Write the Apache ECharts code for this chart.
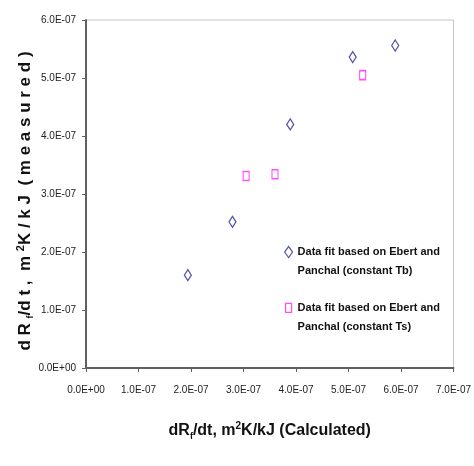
<!DOCTYPE html>
<html><head><meta charset="utf-8">
<script src="https://cdn.jsdelivr.net/npm/echarts@6/dist/echarts.min.js"></script>
<style>html,body{margin:0;padding:0;background:#fff}#c{width:474px;height:466px}</style>
</head><body><div id="c"></div>
<script>
const xTickLabels = ['0.0E+00','1.0E-07','2.0E-07','3.0E-07','4.0E-07','5.0E-07','6.0E-07','7.0E-07'];
const yTickLabels = ['0.0E+00','1.0E-07','2.0E-07','3.0E-07','4.0E-07','5.0E-07','6.0E-07'];
const tbCalculated = [1.94e-7, 2.79e-7, 3.89e-7, 5.08e-7, 5.89e-7];
const tbMeasured   = [1.60e-7, 2.52e-7, 4.20e-7, 5.36e-7, 5.56e-7];
const tsCalculated = [3.05e-7, 3.60e-7, 5.27e-7];
const tsMeasured   = [3.31e-7, 3.34e-7, 5.05e-7];
const seriesNames = ['Data fit based on Ebert and\nPanchal (constant Tb)', 'Data fit based on Ebert and\nPanchal (constant Ts)'];

const FONT = '"Liberation Sans",Arial,sans-serif';
const step = 1e-7;
function tickLabel(arr){ return v => { const i = Math.round(v/step); return arr[i] !== undefined ? arr[i] : ''; }; }
function pairs(xs, ys){ return xs.map((x,i)=>[x, ys[i]]); }

// legend icons: glyph at top of a tall box so it lines up with the first text line
const diamondIcon = 'path://M4,4 L8,9.5 L4,15 L0,9.5 Z M4,0 L4,0.01 M4,38 L4,38.01';
const rectIcon = 'path://M1,5 L7,5 L7,14 L1,14 Z M4,0 L4,0.01 M4,38 L4,38.01';

const chart = echarts.init(document.getElementById('c'), null, {renderer:'canvas'});
chart.setOption({
  backgroundColor:'#fff',
  animation:false,
  grid:{left:86, top:20, right:18, bottom:98, show:true, borderColor:'#c4c4c4', borderWidth:1, backgroundColor:'transparent'},
  xAxis:{
    type:'value', min:0, max:7e-7, interval:step,
    splitLine:{show:false},
    axisLine:{show:true, lineStyle:{color:'#606060', width:2}},
    axisTick:{show:true, length:4, lineStyle:{color:'#606060', width:1}},
    axisLabel:{formatter:tickLabel(xTickLabels), fontFamily:FONT, fontSize:10, color:'#222', margin:17},
    name:'{b|dR}{sub|f}{b|/dt, m}{sup|2}{b|K/kJ (Calculated)}',
    nameLocation:'middle', nameGap:53, nameMoveOverlap:false,
    nameTextStyle:{rich:{
      b:{fontFamily:FONT, fontSize:16, fontWeight:'bold', color:'#111', verticalAlign:'bottom'},
      sub:{fontFamily:FONT, fontSize:9, fontWeight:'bold', color:'#111', verticalAlign:'bottom', padding:[0,0,-2,0]},
      sup:{fontFamily:FONT, fontSize:10, fontWeight:'bold', color:'#111', verticalAlign:'top', padding:[0,0,8,0]}
    }}
  },
  yAxis:{
    type:'value', min:0, max:6e-7, interval:step,
    splitLine:{show:false},
    axisLine:{show:true, lineStyle:{color:'#606060', width:2}},
    axisTick:{show:true, length:4, lineStyle:{color:'#606060', width:1}},
    axisLabel:{formatter:tickLabel(yTickLabels), fontFamily:FONT, fontSize:10, color:'#222', margin:10},
    name:'{b|d R }{sub|f}{b|/d t ,  m }{sup|2}{b|K / k J  ( m e a s u r e d )}',
    nameLocation:'middle', nameGap:52, nameRotate:90, nameMoveOverlap:false,
    nameTextStyle:{padding:[0,14,0,0], rich:{
      b:{fontFamily:FONT, fontSize:17, fontWeight:'bold', color:'#111', verticalAlign:'bottom'},
      sub:{fontFamily:FONT, fontSize:9, fontWeight:'bold', color:'#111', verticalAlign:'bottom', padding:[0,0,-1,0]},
      sup:{fontFamily:FONT, fontSize:11, fontWeight:'bold', color:'#111', verticalAlign:'top', padding:[0,0,8,0]}
    }}
  },
  legend:{
    orient:'vertical', left:279, top:237, itemGap:16.5,
    itemWidth:8, itemHeight:38,
    textStyle:{fontFamily:FONT, fontSize:11, fontWeight:'bold', color:'#111', lineHeight:19},
    data:[
      {name:seriesNames[0], icon:diamondIcon, itemStyle:{color:'#fff', borderColor:'#2a2a9a', borderWidth:1.2}},
      {name:seriesNames[1], icon:rectIcon, itemStyle:{color:'#fff', borderColor:'#ff22ff', borderWidth:1.2}}
    ]
  },
  series:[
    {name:seriesNames[0], type:'scatter', data:pairs(tbCalculated, tbMeasured),
     symbol:'diamond', symbolSize:[7,11],
     itemStyle:{color:'#fff', borderColor:'#2a2a9a', borderWidth:1.3}},
    {name:seriesNames[1], type:'scatter', data:pairs(tsCalculated, tsMeasured),
     symbol:'rect', symbolSize:[6,9],
     itemStyle:{color:'#fff', borderColor:'#ff22ff', borderWidth:1.3}}
  ]
});
</script></body></html>
